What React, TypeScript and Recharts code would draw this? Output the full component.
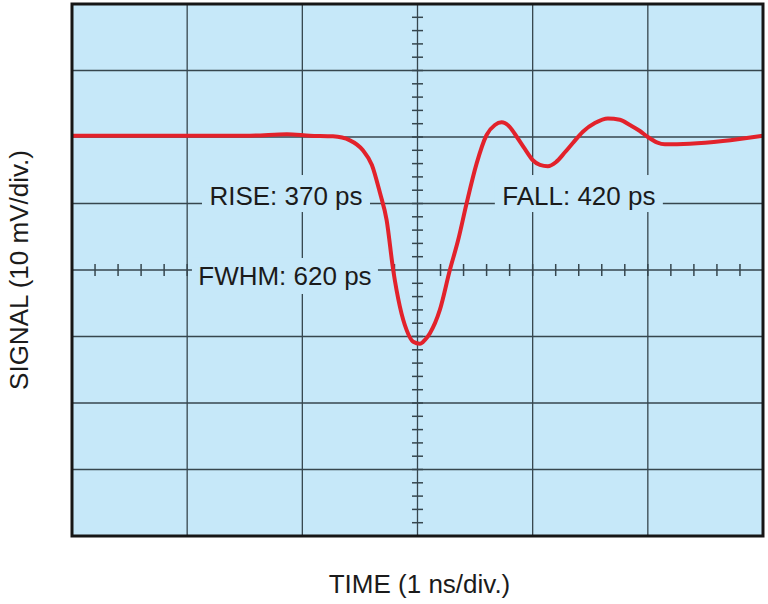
import React from "react";
import {
  LineChart,
  Line,
  XAxis,
  YAxis,
  CartesianGrid,
  ReferenceLine,
  ReferenceArea,
  ReferenceDot,
} from "recharts";

// Time in ns (1 ns / division, 6 divisions)
const TIME_NS = [
  0, 1.0, 1.545, 1.866, 2.066, 2.266, 2.413, 2.526, 2.604, 2.674, 2.732,
  2.789, 2.847, 2.905, 2.963, 3.021, 3.065, 3.108, 3.194, 3.281, 3.353,
  3.426, 3.513, 3.6, 3.672, 3.73, 3.802, 3.863, 3.932, 4.002, 4.063, 4.132,
  4.201, 4.28, 4.349, 4.436, 4.54, 4.653, 4.757, 4.844, 4.931, 5.0, 5.078,
  5.148, 5.365, 5.651, 6.0,
];
// Signal in mV (10 mV / division, 8 divisions)
const SIGNAL_MV = [
  20.2, 20.2, 20.2, 20.4, 20.2, 20.1, 19.5, 18.0, 15.8, 11.6, 7.5, 0, -5.5,
  -9.0, -10.8, -11.1, -10.5, -9.5, -6.0, 0, 4.5, 10.0, 16.0, 20.3, 21.8,
  22.2, 21.5, 20.0, 18.2, 16.5, 15.8, 15.6, 16.2, 17.7, 19.1, 20.8, 22.1,
  22.8, 22.6, 21.8, 20.9, 20.0, 19.2, 18.9, 19.0, 19.4, 20.2,
];

const X_GRID = [1, 2, 3, 4, 5];
const Y_GRID = [-30, -20, -10, 0, 10, 20, 30];
const X_MINOR = [
  0.2, 0.4, 0.6, 0.8, 1.0, 1.2, 1.4, 1.6, 1.8, 2.0, 2.2, 2.4, 2.6, 2.8, 3.2,
  3.4, 3.6, 3.8, 4.0, 4.2, 4.4, 4.6, 4.8, 5.0, 5.2, 5.4, 5.6, 5.8,
];
const Y_MINOR = [
  -38, -36, -34, -32, -30, -28, -26, -24, -22, -20, -18, -16, -14, -12, -10,
  -8, -6, -4, -2, 2, 4, 6, 8, 10, 12, 14, 16, 18, 20, 22, 24, 26, 28, 30, 32,
  34, 36, 38,
];

const ANNOTATIONS = [
  { text: "RISE: 370 ps", t: 1.858, mv: 11.5, w: 168, h: 37, base: 11.5 },
  { text: "FALL: 420 ps", t: 4.401, mv: 11.5, w: 168, h: 37, base: 11.5 },
  { text: "FWHM: 620 ps", t: 1.849, mv: -0.9, w: 186, h: 36, base: 9 },
];

const X_LABEL = "TIME (1 ns/div.)";
const Y_LABEL = "SIGNAL (10 mV/div.)";

const data = TIME_NS.map((t, i) => ({ t, v: SIGNAL_MV[i] }));

const BG = "#c6e8f9";
const GRID = "#36464e";
const FONT = "'Liberation Sans', Arial, Helvetica, sans-serif";
const INK = "#1b1b1b";

export default function App() {
  return (
    <div style={{ position: "absolute", left: 0, top: 0, width: 768, height: 604, background: "#fff" }}>
      <LineChart
        width={768}
        height={604}
        data={data}
        margin={{ top: 4, right: 5, bottom: 0, left: 0 }}
      >
        <CartesianGrid horizontal={false} vertical={false} fill={BG} fillOpacity={1} />
        <XAxis
          type="number"
          dataKey="t"
          domain={[0, 6]}
          ticks={[0, 1, 2, 3, 4, 5, 6]}
          tick={false}
          tickLine={false}
          axisLine={false}
          height={68}
          label={{
            content: (p: any) => {
              const vb = p.viewBox || {};
              return (
                <text
                  x={vb.x + vb.width / 2 + 2}
                  y={593}
                  textAnchor="middle"
                  fontFamily={FONT}
                  fontSize={26}
                  fill={INK}
                >
                  {X_LABEL}
                </text>
              );
            },
          }}
        />
        <YAxis
          type="number"
          domain={[-40, 40]}
          ticks={[-40, -30, -20, -10, 0, 10, 20, 30, 40]}
          tick={false}
          tickLine={false}
          axisLine={false}
          width={72}
          label={{
            content: (p: any) => {
              const vb = p.viewBox || {};
              const cy = vb.y + vb.height / 2;
              return (
                <text
                  x={0}
                  y={0}
                  transform={`translate(28, ${cy}) rotate(-90)`}
                  textAnchor="middle"
                  fontFamily={FONT}
                  fontSize={26}
                  fill={INK}
                >
                  {Y_LABEL}
                </text>
              );
            },
          }}
        />
        {X_GRID.map((x) => (
          <ReferenceLine key={`gx${x}`} x={x} stroke={GRID} strokeWidth={1.3} />
        ))}
        {Y_GRID.map((y) => (
          <ReferenceLine key={`gy${y}`} y={y} stroke={GRID} strokeWidth={1.3} />
        ))}
        {Y_MINOR.map((y) => (
          <ReferenceLine
            key={`my${y}`}
            segment={[
              { x: 3 - 0.048, y },
              { x: 3 + 0.048, y },
            ]}
            stroke={GRID}
            strokeWidth={1.5}
          />
        ))}
        {X_MINOR.map((x) => (
          <ReferenceLine
            key={`mx${x}`}
            segment={[
              { x, y: -0.9 },
              { x, y: 0.9 },
            ]}
            stroke={GRID}
            strokeWidth={1.5}
          />
        ))}
        {ANNOTATIONS.map((a) => (
          <ReferenceDot
            key={a.text}
            x={a.t}
            y={a.mv}
            r={0}
            shape={(p: any) => (
              <g>
                <rect
                  x={p.cx - a.w / 2}
                  y={p.cy - a.h / 2}
                  width={a.w}
                  height={a.h}
                  fill={BG}
                />
                <text
                  x={p.cx}
                  y={p.cy + a.base}
                  textAnchor="middle"
                  fontFamily={FONT}
                  fontSize={26}
                  fill={INK}
                >
                  {a.text}
                </text>
              </g>
            )}
          />
        ))}
        <Line
          type="monotone"
          dataKey="v"
          stroke="#e2222b"
          strokeWidth={4}
          dot={false}
          activeDot={false}
          isAnimationActive={false}
        />
        <ReferenceArea
          x1={0}
          x2={6}
          y1={-40}
          y2={40}
          fill="none"
          fillOpacity={0}
          stroke="#161616"
          strokeWidth={3}
          zIndex={2500}
        />
      </LineChart>
    </div>
  );
}
